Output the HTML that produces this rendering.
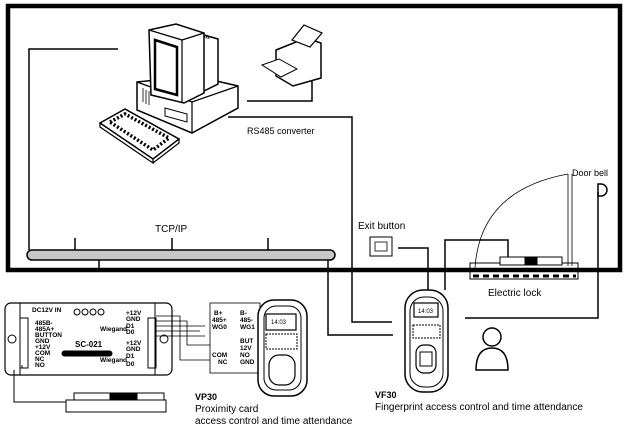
<!DOCTYPE html>
<html><head><meta charset="utf-8"><style>body{margin:0;background:#fff}svg{display:block}text{font-family:"Liberation Sans",sans-serif}</style></head><body>
<svg width="626" height="430" viewBox="0 0 626 430" xmlns="http://www.w3.org/2000/svg">
<g fill="none" stroke="#000">
<rect x="8" y="6" width="612" height="264" stroke-width="4.5"/>
<rect x="27" y="250" width="308" height="10" rx="5" fill="#c8c8c8" stroke-width="1.5"/>
<path d="M29 250V49H118M75 250V238M172 250V238M268 250V238M99 260V270" stroke-width="1.5"/>
<path d="M247 101H312V78M228 117H352V322H392M328 260V335H393" stroke-width="1.5"/>
<!-- computer base -->
<path d="M137 82l58-6 43 10v22l-46 25-55-23z" fill="#fff" stroke-width="1.5"/>
<path d="M137 82l55 20 46-16M192 102v31" stroke-width="1.2"/>
<path d="M143 88v14M146 90v14M149 91v14" stroke-width="0.8"/>
<path d="M165 108l22 6v8l-22-6z" stroke-width="1"/>
<!-- monitor back -->
<path d="M176 27l42 12v45l-26 13z" fill="#fff" stroke-width="1.5"/>
<path d="M185 30l25 8" stroke-width="3" stroke-dasharray="1 1"/>
<!-- monitor front -->
<path d="M149 30l27-6 28 9v60l-20 10-33-8z" fill="#fff" stroke-width="1.5"/>
<path d="M149 30l33 10v63M182 40l22-7" stroke-width="1.2"/>
<path d="M155 40l22 7v48l-22-6z" stroke-width="2.5"/>
<!-- keyboard -->
<path d="M100 123l25-14 54 30-26 20z" fill="#fff" stroke-width="1.5"/>
<path d="M100 123v4l53 36v-4M153 163l26-20v-4" stroke-width="1.2"/>
<path d="M110 122l15-8 44 24-16 12z" stroke-width="3.5" stroke-dasharray="2 2"/>
<!-- printer -->
<path d="M276 50l30-12 15 5v35l-28 8-17-10z" fill="#fff" stroke-width="1.5"/>
<path d="M292 40l12-15 18 8-12 14z" fill="#fff" stroke-width="1.2"/>
<path d="M262 65l17-6 18 10-16 8z" fill="#fff" stroke-width="1"/>
<!-- exit button -->
<rect x="370" y="237" width="22" height="19" stroke-width="1"/>
<rect x="375" y="242" width="12" height="9" stroke-width="0.8"/>
<path d="M398 248H428V290M445 290V240H508V262" stroke-width="1.5"/>
<!-- door -->
<path d="M475 268Q480 190 568 174" stroke-width="0.8"/>
<path d="M568 174V266M572 174V266" stroke-width="0.8"/>
<rect x="470" y="263" width="108" height="16" stroke-width="1"/>
<path d="M473 276H576" stroke-width="3" stroke-dasharray="6 4"/>
<rect x="500" y="257" width="62" height="8" fill="#fff" stroke-width="1"/>
<rect x="525" y="257" width="12" height="8" fill="#000"/>
<!-- door bell -->
<path d="M598 192V318H465" stroke-width="1.5"/>
<path d="M598 184v12h3a6 6 0 0 0 0-12z" stroke-width="1.5"/>
<!-- VF30 -->
<rect x="405" y="290" width="43" height="102" rx="18" fill="#fff" stroke-width="1.5"/>
<rect x="410" y="297" width="33" height="90" rx="14" stroke-width="1"/>
<rect x="414" y="303" width="24" height="14" stroke-width="1.2"/>
<rect x="413" y="325" width="27" height="13" stroke-width="1" stroke-dasharray="2 1"/>
<rect x="416" y="345" width="20" height="28" rx="8" stroke-width="1.2"/>
<rect x="420" y="352" width="12" height="14" stroke-width="1"/>
<!-- person -->
<circle cx="492" cy="337" r="9" stroke-width="1.5"/>
<path d="M476 370q0-22 16-22q16 0 16 22z" stroke-width="1.5"/>
<!-- controller -->
<rect x="5" y="303" width="167" height="72" rx="6" fill="#fff" stroke-width="1.2"/>
<rect x="20" y="303" width="135" height="72" stroke-width="1"/>
<rect x="20" y="318" width="8" height="50" stroke-width="1"/>
<rect x="148" y="318" width="8" height="50" stroke-width="1"/>
<circle cx="12" cy="339" r="4" stroke-width="1"/><circle cx="164" cy="339" r="4" stroke-width="1"/>
<circle cx="77" cy="312" r="3" stroke-width="1"/><circle cx="85" cy="312" r="3" stroke-width="1"/><circle cx="93" cy="312" r="3" stroke-width="1"/><circle cx="101" cy="312" r="3" stroke-width="1"/>
<rect x="62" y="351" width="50" height="5" rx="2.5" fill="#000"/>
<path d="M14 370V402H66M22 365V368" stroke-width="1"/>
<rect x="66" y="400" width="100" height="12" stroke-width="1"/>
<rect x="74" y="393" width="90" height="7" stroke-width="1"/>
<rect x="110" y="393" width="27" height="7" fill="#000"/>
<!-- wires to VP30 -->
<path d="M156 316H180V360H210M156 321H187V345H210M156 326H205M156 331H200M156 336H205" stroke-width="0.8"/>
<rect x="210" y="303" width="50" height="70" stroke-width="0.8"/>
<!-- VP30 -->
<rect x="258" y="300" width="49" height="96" rx="16" fill="#fff" stroke-width="1.5"/>
<rect x="264" y="306" width="37" height="84" rx="12" stroke-width="1"/>
<rect x="266" y="314" width="30" height="16" stroke-width="1.2"/>
<rect x="266" y="334" width="31" height="15" stroke-width="1" stroke-dasharray="2 1"/>
<rect x="269" y="355" width="26" height="30" rx="10" stroke-width="1.2"/>
</g>
<g font-size="6.5" fill="#000" font-weight="bold">
<text x="32" y="312">DC12V IN</text>
<text x="35" y="325">485B-</text><text x="35" y="331">485A+</text><text x="35" y="337">BUTTON</text><text x="35" y="343">GND</text><text x="35" y="349">+12V</text><text x="35" y="355">COM</text><text x="35" y="361">NC</text><text x="35" y="367">NO</text>
<text x="126" y="315">+12V</text><text x="126" y="321">GND</text><text x="100" y="331">Wiegand</text><text x="126" y="328">D1</text><text x="126" y="334">D0</text>
<text x="126" y="345">+12V</text><text x="126" y="351">GND</text><text x="100" y="362">Wiegand</text><text x="126" y="358">D1</text><text x="126" y="366">D0</text>
<text x="75" y="347" font-size="8">SC-021</text>
<text x="214" y="315">B+</text><text x="240" y="315">B-</text><text x="212" y="322">485+</text><text x="240" y="322">485-</text><text x="212" y="329">WG0</text><text x="240" y="329">WG1</text>
<text x="240" y="343">BUT</text><text x="240" y="350">12V</text><text x="212" y="357">COM</text><text x="240" y="357">NO</text><text x="218" y="364">NC</text><text x="240" y="364">GND</text>
</g>
<g fill="#000">
<text x="155" y="232" font-size="10">TCP/IP</text>
<text x="247" y="134" font-size="9" font-family="Liberation Mono,monospace">RS485 converter</text>
<text x="358" y="229" font-size="10">Exit button</text>
<text x="572" y="176" font-size="9">Door bell</text>
<text x="488" y="296" font-size="10">Electric lock</text>
<text x="375" y="398" font-size="9" font-weight="bold">VF30</text>
<text x="375" y="410" font-size="10">Fingerprint access control and time attendance</text>
<text x="195" y="400" font-size="9" font-weight="bold">VP30</text>
<text x="195" y="412" font-size="10">Proximity card</text>
<text x="195" y="424" font-size="10">access control and time attendance</text>
<text x="418" y="313" font-size="6">14:03</text>
<text x="271" y="324" font-size="6">14:03</text>
</g>
</svg>
</body></html>
